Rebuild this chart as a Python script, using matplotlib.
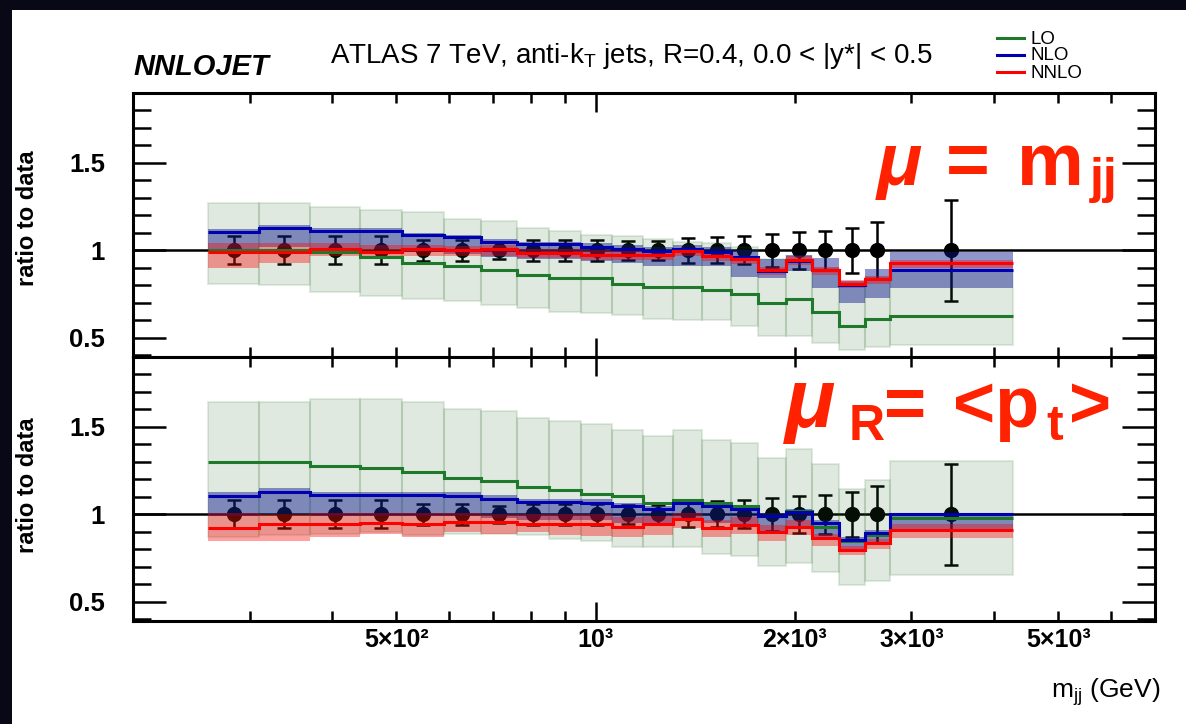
import numpy as np
import matplotlib
matplotlib.use('Agg')
import matplotlib.pyplot as plt
from matplotlib.lines import Line2D
from matplotlib.patches import Rectangle
from matplotlib.ticker import FixedLocator, MultipleLocator, FuncFormatter, NullFormatter

plt.rcParams['font.family'] = ['Liberation Sans', 'DejaVu Sans']
plt.rcParams['mathtext.fontset'] = 'custom'
plt.rcParams['mathtext.rm'] = 'Liberation Sans'
plt.rcParams['mathtext.it'] = 'Liberation Sans:italic'
plt.rcParams['mathtext.bf'] = 'Liberation Sans:bold'

W, H = 1186, 724

# m_jj bin edges (GeV)
edges = [260, 310, 370, 440, 510, 590, 670, 760, 850, 950, 1060, 1180,
         1310, 1450, 1600, 1760, 1940, 2120, 2330, 2550, 2780, 4270]
data_err = [0.08, 0.08, 0.08, 0.08, 0.06, 0.06, 0.05, 0.06, 0.06, 0.06, 0.055,
            0.055, 0.07, 0.075, 0.08, 0.095, 0.105, 0.11, 0.13, 0.165, 0.29]

# upper panel: mu = m_jj
lo_a = [1.00, 1.00, 0.99, 0.96, 0.93, 0.91, 0.89, 0.86, 0.84, 0.84, 0.81,
        0.79, 0.79, 0.775, 0.75, 0.70, 0.72, 0.645, 0.57, 0.61, 0.625]
lo_a_hi = [1.27, 1.27, 1.25, 1.23, 1.22, 1.18, 1.17, 1.13, 1.11, 1.09, 1.08,
           1.065, 1.05, 1.04, 1.02, 0.95, 0.97, 0.90, 0.82, 0.85, 0.88]
lo_a_lo = [0.81, 0.80, 0.76, 0.74, 0.72, 0.71, 0.69, 0.67, 0.65, 0.64, 0.63,
           0.605, 0.60, 0.60, 0.57, 0.51, 0.51, 0.47, 0.43, 0.45, 0.46]
nlo_a = [1.105, 1.13, 1.11, 1.11, 1.09, 1.075, 1.05, 1.035, 1.035, 1.02, 1.01,
         0.995, 1.01, 0.99, 0.96, 0.88, 0.94, 0.89, 0.80, 0.835, 0.89]
nlo_a_hi = [1.12, 1.145, 1.125, 1.125, 1.10, 1.09, 1.065, 1.05, 1.05, 1.04, 1.03,
            1.02, 1.03, 1.02, 1.0, 0.95, 0.975, 0.955, 0.825, 0.895, 0.99]
nlo_a_lo = [1.0, 1.02, 1.01, 1.01, 0.99, 0.98, 0.96, 0.95, 0.95, 0.94, 0.93,
            0.91, 0.91, 0.91, 0.85, 0.84, 0.88, 0.785, 0.70, 0.725, 0.785]
nnlo_a = [0.99, 0.99, 1.01, 0.99, 1.01, 1.0, 1.005, 0.985, 0.985, 0.975, 0.975,
          0.975, 0.995, 0.97, 0.95, 0.885, 0.945, 0.885, 0.81, 0.835, 0.925]
nnlo_a_hi = [1.04, 1.04, 1.04, 1.03, 1.03, 1.025, 1.03, 1.005, 1.005, 1.0, 0.995,
             0.995, 1.015, 0.99, 0.97, 0.905, 0.965, 0.905, 0.83, 0.855, 0.945]
nnlo_a_lo = [0.90, 0.93, 0.97, 0.96, 0.97, 0.965, 0.97, 0.955, 0.955, 0.945, 0.945,
             0.945, 0.965, 0.94, 0.92, 0.86, 0.915, 0.86, 0.785, 0.81, 0.90]

# lower panel: mu_R = <p_t>
lo_b = [1.297, 1.297, 1.278, 1.263, 1.243, 1.21, 1.19, 1.157, 1.138, 1.119, 1.105,
        1.067, 1.082, 1.067, 1.048, 0.99, 1.02, 0.93, 0.85, 0.88, 0.98]
lo_b_hi = [1.645, 1.645, 1.657, 1.657, 1.64, 1.60, 1.59, 1.55, 1.536, 1.517, 1.483,
           1.446, 1.483, 1.425, 1.41, 1.32, 1.374, 1.287, 1.144, 1.197, 1.303]
lo_b_lo = [0.87, 0.88, 0.89, 0.90, 0.88, 0.89, 0.89, 0.88, 0.86, 0.847, 0.812,
           0.812, 0.812, 0.776, 0.76, 0.703, 0.722, 0.67, 0.598, 0.617, 0.655]
nlo_b = [1.105, 1.125, 1.109, 1.109, 1.109, 1.105, 1.09, 1.07, 1.07, 1.067, 1.048,
         1.033, 1.067, 1.048, 1.033, 0.99, 1.013, 0.952, 0.856, 0.895, 1.0]
nlo_b_hi = [1.13, 1.15, 1.13, 1.13, 1.13, 1.125, 1.11, 1.09, 1.09, 1.085, 1.065,
            1.05, 1.085, 1.065, 1.05, 1.005, 1.03, 0.97, 0.87, 0.91, 1.0]
nlo_b_lo = [0.99, 1.0, 0.99, 0.99, 0.99, 0.99, 0.98, 0.97, 0.97, 0.97, 0.95,
            0.94, 0.96, 0.95, 0.94, 0.90, 0.92, 0.87, 0.80, 0.83, 0.90]
nnlo_b = [0.923, 0.943, 0.943, 0.952, 0.943, 0.958, 0.958, 0.945, 0.945, 0.943, 0.927,
          0.943, 0.971, 0.92, 0.94, 0.898, 0.93, 0.862, 0.795, 0.837, 0.908]
nnlo_b_hi = [1.01, 1.0, 1.005, 1.01, 1.01, 1.01, 1.0, 1.0, 1.0, 1.0, 0.985,
             0.99, 1.01, 0.97, 0.985, 0.94, 0.97, 0.89, 0.82, 0.86, 0.945]
nnlo_b_lo = [0.847, 0.847, 0.87, 0.89, 0.87, 0.90, 0.89, 0.90, 0.88, 0.875, 0.87,
             0.88, 0.92, 0.87, 0.89, 0.85, 0.88, 0.82, 0.765, 0.80, 0.866]

xticks_lab = {500: '5×10²', 1000: '10³', 2000: '2×10³', 3000: '3×10³', 5000: '5×10³'}

C_LO, C_NLO, C_NNLO = '#1e7a2a', '#0000b0', '#ff0000'
RED_TXT = '#ff2200'


def px(x, y):
    return x / W, 1 - y / H


fig = plt.figure(figsize=(W / 100, H / 100), dpi=100)
fig.patch.set_facecolor('#080816')
fig.patches.append(Rectangle((12 / W, 0), 1 - 12 / W, 1 - 10 / H,
                             transform=fig.transFigure, facecolor='white',
                             edgecolor='none', zorder=-10))

ax_a = fig.add_axes([133 / W, 1 - 357 / H, (1155 - 133) / W, 264 / H])
ax_b = fig.add_axes([133 / W, 1 - 621 / H, (1155 - 133) / W, 264 / H])


def draw_panel(ax, lo, lo_hi, lo_lo, nlo, nlo_hi, nlo_lo, nnlo, nnlo_hi, nnlo_lo):
    e = np.array(edges, float)
    centers = np.sqrt(e[:-1] * e[1:])
    widths = np.diff(e)
    ax.axhline(1.0, color='black', lw=1.8, zorder=2)
    ax.errorbar(centers, np.ones(len(centers)), yerr=data_err, fmt='o',
                color='black', ms=10, elinewidth=1.8, capsize=5, capthick=1.8,
                zorder=2)
    for hi, low, fc, ec in [(lo_hi, lo_lo, (0.12, 0.40, 0.12, 0.14), (0.12, 0.40, 0.12, 0.12)),
                            (nlo_hi, nlo_lo, (0.04, 0.08, 0.55, 0.45), 'none'),
                            (nnlo_hi, nnlo_lo, (1.0, 0.0, 0.0, 0.37), 'none')]:
        hi = np.array(hi)
        low = np.array(low)
        ax.bar(e[:-1], hi - low, width=widths, bottom=low, align='edge',
               facecolor=fc, edgecolor=ec, linewidth=1.5, zorder=3)
    for vals, c in [(lo, C_LO), (nlo, C_NLO), (nnlo, C_NNLO)]:
        ax.stairs(vals, e, color=c, lw=2.2, baseline=None, zorder=4)

    ax.set_xscale('log')
    ax.set_xlim(200, 7000)
    ax.set_ylim(0.39, 1.9)
    ax.xaxis.set_major_locator(FixedLocator([1000]))
    ax.xaxis.set_minor_locator(FixedLocator([300, 400, 500, 600, 700, 800, 900,
                                             2000, 3000, 4000, 5000, 6000]))
    ax.yaxis.set_major_locator(FixedLocator([0.5, 1.0, 1.5]))
    ax.yaxis.set_minor_locator(MultipleLocator(0.1))
    ax.yaxis.set_major_formatter(FuncFormatter(lambda v, p: f'{v:g}'))
    ax.tick_params(axis='both', which='both', direction='in', top=True,
                   right=True, width=1.8, colors='black')
    ax.tick_params(axis='x', which='major', length=14)
    ax.tick_params(axis='x', which='minor', length=7)
    ax.tick_params(axis='y', which='major', length=24, pad=20, labelsize=18.5)
    ax.tick_params(axis='y', which='minor', length=13)
    for lab in ax.get_yticklabels():
        lab.set_fontweight('bold')
    for s in ax.spines.values():
        s.set_linewidth(2.2)


draw_panel(ax_a, lo_a, lo_a_hi, lo_a_lo, nlo_a, nlo_a_hi, nlo_a_lo,
           nnlo_a, nnlo_a_hi, nnlo_a_lo)
draw_panel(ax_b, lo_b, lo_b_hi, lo_b_lo, nlo_b, nlo_b_hi, nlo_b_lo,
           nnlo_b, nnlo_b_hi, nnlo_b_lo)

ax_a.xaxis.set_major_formatter(NullFormatter())
ax_a.xaxis.set_minor_formatter(NullFormatter())
ax_b.xaxis.set_major_formatter(FuncFormatter(lambda v, p: xticks_lab.get(int(round(v)), '')))
ax_b.xaxis.set_minor_formatter(FuncFormatter(lambda v, p: xticks_lab.get(int(round(v)), '')))
ax_b.tick_params(axis='x', which='both', pad=5, labelsize=18)
for lab in ax_b.get_xticklabels(which='both'):
    lab.set_fontweight('bold')

# axis titles
fig.text(*px(27, 218), 'ratio to data', rotation=90, ha='center', va='center',
         fontsize=17, fontweight='bold')
fig.text(*px(27, 485), 'ratio to data', rotation=90, ha='center', va='center',
         fontsize=17, fontweight='bold')
fig.text(*px(1160, 698), r'm$_{\mathrm{jj}}$ (GeV)', ha='right', va='baseline',
         fontsize=19)

# header
fig.text(*px(133, 75), 'NNLOJET', fontsize=21, fontweight='bold', fontstyle='italic',
         va='baseline', ha='left')
fig.text(*px(330, 63), r'ATLAS 7 TeV, anti-k$_{\mathrm{T}}$ jets, R=0.4, 0.0 < |y*| < 0.5',
         fontsize=20, va='baseline', ha='left')

# legend
for name, c, yy in [('LO', C_LO, 38), ('NLO', C_NLO, 55), ('NNLO', C_NNLO, 72)]:
    x0, y0 = px(997, yy)
    x1, _ = px(1024, yy)
    fig.add_artist(Line2D([x0, x1], [y0, y0], color=c, lw=2.2, transform=fig.transFigure))
    fig.text(*px(1031, yy + 1), name, fontsize=13.5, va='center', ha='left')

# scale annotations
fig.text(*px(877, 185), 'μ', fontsize=54, fontweight='bold', fontstyle='italic',
         color=RED_TXT, va='baseline', ha='left')
fig.text(*px(946, 185), '=', fontsize=54, fontweight='bold',
         color=RED_TXT, va='baseline', ha='left')
fig.text(*px(1017, 185), 'm', fontsize=54, fontweight='bold',
         color=RED_TXT, va='baseline', ha='left')
fig.text(*px(1090, 193), 'jj', fontsize=36, fontweight='bold',
         color=RED_TXT, va='baseline', ha='left')

fig.text(*px(785, 427), 'μ', fontsize=60, fontweight='bold', fontstyle='italic',
         color=RED_TXT, va='baseline', ha='left')
fig.text(*px(849, 440), 'R', fontsize=36, fontweight='bold',
         color=RED_TXT, va='baseline', ha='left')
fig.text(*px(884, 427), '=', fontsize=52, fontweight='bold',
         color=RED_TXT, va='baseline', ha='left')
fig.text(*px(953, 427), '<p', fontsize=52, fontweight='bold',
         color=RED_TXT, va='baseline', ha='left')
fig.text(*px(1046, 440), 't', fontsize=36, fontweight='bold',
         color=RED_TXT, va='baseline', ha='left')
fig.text(*px(1069, 427), '>', fontsize=52, fontweight='bold',
         color=RED_TXT, va='baseline', ha='left')

fig.savefig('out.png', dpi=100, facecolor=fig.get_facecolor())
